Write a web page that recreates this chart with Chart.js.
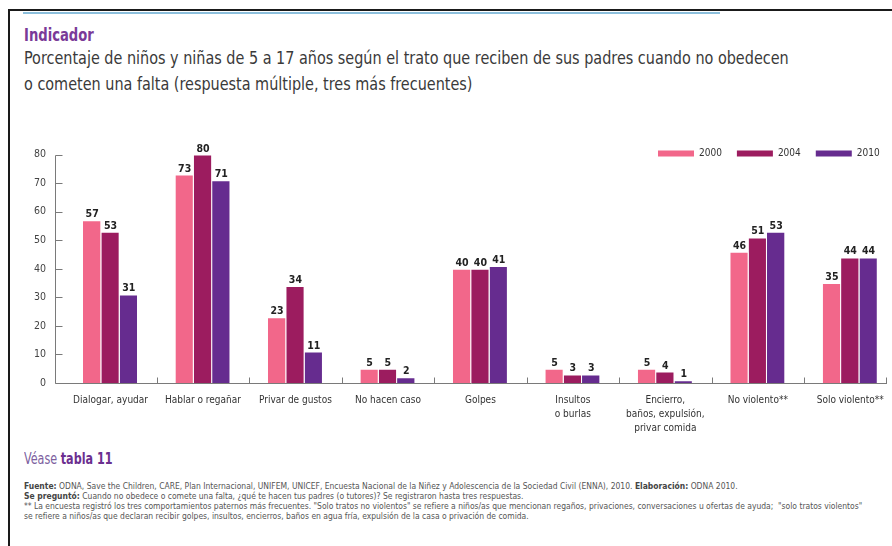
<!DOCTYPE html>
<html lang="es">
<head>
<meta charset="utf-8">
<title>Trato de los padres</title>
<script src="https://cdn.jsdelivr.net/npm/chart.js@4.4.1/dist/chart.umd.min.js"></script>
<style>
  html, body { margin:0; padding:0; background:#fff; width:892px; height:546px; overflow:hidden; }
  body { position:relative; font-family:"Liberation Sans Narrow", "DejaVu Sans Condensed", "Noto Sans", sans-serif; color:#333; }
  #frame { position:absolute; left:8px; top:9px; width:900px; height:600px; border-left:2px solid #1a1a1a; border-top:2px solid #1a1a1a; }
  #rule { position:absolute; left:23px; top:12px; width:697px; height:2px; background:#8cbfdc; }
  .sq { position:absolute; left:24px; white-space:nowrap; transform-origin:0 50%; }
  #ind { top:24px; font-size:18.5px; line-height:22px; font-weight:bold; color:#7a3a98; transform:scaleX(0.79); }
  .tl { font-size:17px; line-height:20px; color:#3a3a3a; transform:scaleX(0.942); }
  #chartBox { position:absolute; left:0; top:130px; }
  #vease { top:450px; font-size:15px; line-height:18px; color:#7d5fa0; transform:scaleX(0.83); }
  #vease b { color:#6b2f8f; }
  .fn { font-size:9px; line-height:10px; color:#555; transform:scaleX(0.94); }
  .fn b { color:#444; }
</style>
</head>
<body>
<div id="frame"></div>
<div id="rule"></div>
<div id="ind" class="sq">Indicador</div>
<div class="tl sq" style="top:48px">Porcentaje de niños y niñas de 5 a 17 años según el trato que reciben de sus padres cuando no obedecen</div>
<div class="tl sq" style="top:74px">o cometen una falta (respuesta múltiple, tres más frecuentes)</div>
<div id="chartBox"><canvas id="chart" width="900" height="320"></canvas></div>
<div id="vease" class="sq">Véase <b>tabla 11</b></div>
<div class="fn sq" style="top:481px"><b>Fuente:</b> ODNA, Save the Children, CARE, Plan Internacional, UNIFEM, UNICEF, Encuesta Nacional de la Niñez y Adolescencia de la Sociedad Civil (ENNA), 2010. <b>Elaboración:</b> ODNA 2010.</div>
<div class="fn sq" style="top:491px"><b>Se preguntó:</b> Cuando no obedece o comete una falta, ¿qué te hacen tus padres (o tutores)? Se registraron hasta tres respuestas.</div>
<div class="fn sq" style="top:501px">** La encuesta registró los tres comportamientos paternos más frecuentes. "Solo tratos no violentos" se refiere a niños/as que mencionan regaños, privaciones, conversaciones u ofertas de ayuda;&nbsp; "solo tratos violentos"</div>
<div class="fn sq" style="top:511px">se refiere a niños/as que declaran recibir golpes, insultos, encierros, baños en agua fría, expulsión de la casa o privación de comida.</div>
<script>
var narrow = '"Liberation Sans Narrow", "DejaVu Sans Condensed", "Noto Sans", sans-serif'

var categories = [
    ['Dialogar, ayudar'], ['Hablar o regañar'], ['Privar de gustos'], ['No hacen caso'], ['Golpes'],
    ['Insultos', 'o burlas'], ['Encierro,', 'baños, expulsión,', 'privar comida'],
    ['No violento**'], ['Solo violento**']
]
var seriesNames = ['2000', '2004', '2010']
var values2000 = [57, 73, 23, 5, 40, 5, 5, 46, 35]
var values2004 = [53, 80, 34, 5, 40, 3, 4, 51, 44]
var values2010 = [31, 71, 11, 2, 41, 3, 1, 53, 44]
var yTicks = [0, 10, 20, 30, 40, 50, 60, 70, 80]
var barColors = ['#f2678a', '#9c1c5f', '#662c8f']

// axis lines with inward ticks, drawn from the chart's own scales
var axisLines = {
    id: 'axisLines',
    afterDraw: function(chart){
        var ctx = chart.ctx
        var x = chart.scales.x
        var y = chart.scales.y
        var ax = 55.5
        var y0 = Math.round(y.getPixelForValue(0)) + 0.5
        var yTop = Math.round(y.getPixelForValue(yTicks[yTicks.length - 1])) + 0.5
        ctx.save()
        ctx.strokeStyle = '#7a7a7a'
        ctx.lineWidth = 1
        ctx.beginPath()
        ctx.moveTo(ax, yTop)
        ctx.lineTo(ax, y0)
        ctx.lineTo(887, y0)
        yTicks.forEach(function(v){
            var py = Math.round(y.getPixelForValue(v)) + 0.5
            ctx.moveTo(ax, py)
            ctx.lineTo(ax + 7, py)
        })
        for(var i = 1; i < categories.length; i++){
            var bx = Math.round((x.getPixelForValue(i - 1) + x.getPixelForValue(i)) / 2) + 0.5
            ctx.moveTo(bx, y0)
            ctx.lineTo(bx, y0 - 6)
        }
        ctx.moveTo(886.5, y0)
        ctx.lineTo(886.5, y0 - 6)
        ctx.stroke()
        ctx.restore()
    }
}

var barLabels = {
    id: 'barLabels',
    afterDatasetsDraw: function(chart){
        var ctx = chart.ctx
        ctx.save()
        ctx.font = 'bold 10.5px ' + narrow
        ctx.fillStyle = '#222'
        ctx.textAlign = 'center'
        ctx.textBaseline = 'alphabetic'
        chart.data.datasets.forEach(function(ds, di){
            chart.getDatasetMeta(di).data.forEach(function(bar, i){
                ctx.fillText(ds.data[i], bar.x, bar.y - 3)
            })
        })
        ctx.restore()
    }
}

var topLegend = {
    id: 'topLegend',
    afterDraw: function(chart){
        var ctx = chart.ctx
        var lx = 658
        var cy = 23.5
        ctx.save()
        ctx.font = '10px ' + narrow
        ctx.textBaseline = 'middle'
        chart.data.datasets.forEach(function(ds){
            ctx.fillStyle = ds.backgroundColor
            ctx.fillRect(lx, cy - 3, 36, 6)
            ctx.fillStyle = '#333'
            ctx.fillText(ds.label, lx + 41, cy)
            lx += 41 + ctx.measureText(ds.label).width + 15
        })
        ctx.restore()
    }
}

Chart.defaults.font.family = narrow
Chart.defaults.color = '#333'

var allValues = [values2000, values2004, values2010]
var datasets = []
for(var k = 0; k < seriesNames.length; k++){
    datasets.push({
        label: seriesNames[k],
        data: allValues[k],
        backgroundColor: barColors[k],
        borderColor: 'rgba(255,255,255,0.85)',
        borderWidth: {top: 1, right: 1, left: 0, bottom: 0},
        borderSkipped: false,
        categoryPercentage: 0.595,
        barPercentage: 1
    })
}

new Chart(document.getElementById('chart'), {
    type: 'bar',
    data: { labels: categories, datasets: datasets },
    options: {
        responsive: false,
        animation: false,
        layout: { padding: { top: 20, right: 3.5, left: 0, bottom: 0 } },
        scales: {
            x: {
                grid: { display: false, drawTicks: false },
                border: { display: false },
                ticks: { font: { size: 10, lineHeight: 1.4 }, color: '#333', padding: 10, maxRotation: 0, autoSkip: false },
                afterFit: function(s){ s.height = 67 }
            },
            y: {
                min: 0, max: 80,
                grid: { display: false, drawTicks: false },
                border: { display: false },
                ticks: { stepSize: 10, font: { size: 10.5 }, color: '#444', padding: 18.3 },
                afterFit: function(s){ s.width = 64.26 }
            }
        },
        plugins: { legend: { display: false }, tooltip: { enabled: false } }
    },
    plugins: [axisLines, barLabels, topLegend]
})
</script>
</body>
</html>
